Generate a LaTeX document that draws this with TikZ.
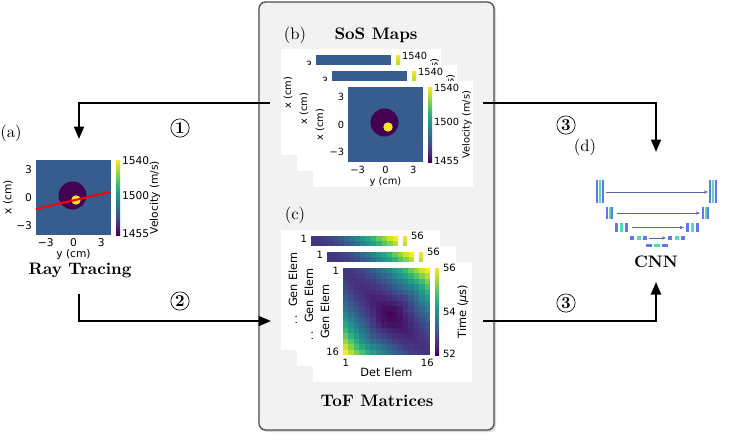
\documentclass[tikz,border=0pt]{standalone}
\usepackage{fontspec}
\usepackage{xcolor}
\usepackage{tikz}
\usetikzlibrary{arrows.meta}
\usetikzlibrary{shadows}
\newfontfamily\mplfont{DejaVu Sans}

\definecolor{vir0}{HTML}{440154}
\definecolor{vir1}{HTML}{472D7B}
\definecolor{vir2}{HTML}{3B528B}
\definecolor{vir3}{HTML}{2C728E}
\definecolor{vir4}{HTML}{21918C}
\definecolor{vir5}{HTML}{28AE80}
\definecolor{vir6}{HTML}{5EC962}
\definecolor{vir7}{HTML}{ADDC30}
\definecolor{vir8}{HTML}{FDE725}
\definecolor{sosbg}{HTML}{365D8D}
\definecolor{unetblue}{RGB}{100,118,232}
\definecolor{unetteal}{RGB}{78,222,190}
\definecolor{unetline}{RGB}{85,100,165}

\pgfdeclareverticalshading{viridis}{100bp}{color(0bp)=(vir0); color(25bp)=(vir0);
  color(31.25bp)=(vir1); color(37.5bp)=(vir2); color(43.75bp)=(vir3); color(50bp)=(vir4);
  color(56.25bp)=(vir5); color(62.5bp)=(vir6); color(68.75bp)=(vir7); color(75bp)=(vir8);
  color(100bp)=(vir8)}

% colour vc = viridis(#1)
\newcommand{\setvir}[1]{%
  \pgfmathsetmacro{\virt}{max(0,min(1,#1))*8}%
  \pgfmathtruncatemacro{\virk}{min(7,floor(\virt))}%
  \pgfmathtruncatemacro{\virf}{(\virt-\virk)*100}%
  \ifcase\virk\relax \colorlet{vc}{vir1!\virf!vir0}\or \colorlet{vc}{vir2!\virf!vir1}%
  \or \colorlet{vc}{vir3!\virf!vir2}\or \colorlet{vc}{vir4!\virf!vir3}%
  \or \colorlet{vc}{vir5!\virf!vir4}\or \colorlet{vc}{vir6!\virf!vir5}%
  \or \colorlet{vc}{vir7!\virf!vir6}\or \colorlet{vc}{vir8!\virf!vir7}\fi}

% sound speed map: shift x, shift y, name prefix, font size
\newcommand{\sosplot}[4]{%
  \begin{scope}[shift={(#1,#2)}, every node/.append style={font=\mplfont\fontsize{#4}{#4}\selectfont, inner sep=1pt}]
    \fill[white] (313,81) rectangle (473,187);
    \fill[sosbg] (348,87) rectangle (423,162);
    \fill[vir0] (384.5,122.5) circle[radius=14];
    \fill[vir8] (388,127) circle[radius=4.7];
    \shade[shading=viridis] (428,87) rectangle (432,162);
    \node[anchor=west] (#3cbt) at (432,88) {1540};
    \node[anchor=west] (#3cbm) at (432,122.3) {1500};
    \node[anchor=west] (#3cbb) at (432,161) {1455};
    \node[rotate=90] (#3cbl) at (467,124.5) {Velocity (m/s)};
    \foreach \t/\v [count=\k] in {96.7/3,124.5/0,152.3/−3} \node[anchor=east] (#3y\k) at (346,\t) {\v};
    \foreach \t/\v [count=\k] in {357.7/−3,385.5/0,413.3/3} \node[anchor=north] (#3x\k) at (\t,164) {\v};
    \node (#3xl) at (385.5,181.5) {y (cm)};
    \node[rotate=90] (#3yl) at (320,124.5) {x (cm)};
  \end{scope}}

% time of flight matrix: shift x, shift y, name prefix
\newcommand{\tofplot}[3]{%
  \begin{scope}[shift={(#1,#2)}, every node/.append style={font=\mplfont\fontsize{6}{6}\selectfont, inner sep=1pt}]
    \fill[white] (313,262) rectangle (472,382);
    \foreach \i in {1,...,16}{
      \foreach \j in {1,...,16}{
        \pgfmathsetmacro{\tofs}{min(abs((\i+\j-2)/30-0.55)/0.55,1)}
        \pgfmathsetmacro{\tofd}{max(abs(\i-\j)/15,0.001)}
        \setvir{0.15*(1-(1-\tofs)*(1-\tofs))+pow(\tofd,1.7)}
        \fill[vc] ({343+(\j-1)*5.4375},{268+(\i-1)*5.4375}) rectangle +(5.5,5.5);
      }
    }
    \shade[shading=viridis] (435,268) rectangle (439,355);
    \node[anchor=west] (#3cbt) at (441,268) {56};
    \node[anchor=west] (#3cbm) at (441,311.5) {54};
    \node[anchor=west] (#3cbb) at (441,354) {52};
    \node[anchor=east] (#3y1) at (341,270.7) {1};
    \node[anchor=east] (#3y2) at (341,352.3) {16};
    \node[anchor=north] (#3x1) at (345.7,357.5) {1};
    \node[anchor=north] (#3x2) at (427.3,357.5) {16};
    \node[font=\mplfont\fontsize{6.8}{6.8}\selectfont] (#3xl) at (386.5,372.5) {Det Elem};
    \node[rotate=90, font=\mplfont\fontsize{6.8}{6.8}\selectfont] (#3yl) at (325,311.5) {Gen Elem};
    \node[rotate=90, font=\mplfont\fontsize{6.8}{6.8}\selectfont] (#3cbl) at (463,311.5) {Time ({\itshape μ}s)};
  \end{scope}}

% three bars of the network sketch: x, y, bar width, gap, height
\newcommand{\ublock}[5]{%
  \fill[unetblue] (#1,#2) rectangle +(#3,#5);
  \fill[unetteal] ({#1+#3+#4},#2) rectangle +(#3,#5);
  \fill[unetblue] ({#1+2*#3+2*#4},#2) rectangle +(#3,#5);}

\begin{document}
\begin{tikzpicture}[x=0.6pt, y=-0.6pt,
    flow/.style={line width=1.2pt, -{Triangle[length=7.5pt,width=6pt]}},
    stepnum/.style={circle, draw, line width=0.4pt, inner sep=0.5pt, minimum size=11pt, font=\bfseries},
    title/.style={font=\bfseries},
    skip/.style={unetline, line width=0.5pt, -{Stealth[length=2.5pt,width=2pt]}}]
  \useasboundingbox (0,0) rectangle (736,440);

  % data panel
  \draw[draw=black!70, fill=gray!10, line width=0.8pt, rounded corners=4pt,
    drop shadow={shadow xshift=1.2pt, shadow yshift=-1.2pt, opacity=0.3}] (259,2) rectangle (494,430);
  \node (lblb) at (295,35) {(b)};
  \node[title] (sostitle) at (376,35) {SoS Maps};
  \node (lblc) at (295,215) {(c)};
  \node[title] (toftitle) at (377,401) {ToF Matrices};

  % arrows
  \coordinate (sosL) at (270,103);
  \coordinate (rayin) at (79,139);
  \coordinate (rayout) at (79,294);
  \coordinate (tofL) at (271,321);
  \coordinate (sosR) at (483,103);
  \coordinate (cnnin) at (656,152);
  \coordinate (tofR) at (483,321);
  \coordinate (cnnout) at (656,282);
  \draw[flow] (sosL) -| (rayin);
  \draw[flow] (rayout) |- (tofL);
  \draw[flow] (sosR) -| (cnnin);
  \draw[flow] (tofR) -| (cnnout);
  \node[stepnum] (num1) at (180,128) {1};
  \node[stepnum] (num2) at (180,301) {2};
  \node[stepnum] (num3a) at (566,125) {3};
  \node[stepnum] (num3b) at (566,303) {3};

  % stacks
  \sosplot{-32}{-32}{sa}{5.9}
  \sosplot{-16}{-16}{sb}{5.9}
  \sosplot{0}{0}{sc}{5.9}
  \tofplot{-32}{-32}{ta}
  \tofplot{-16}{-16}{tb}
  \tofplot{0}{0}{tc}

  % ray tracing
  \node (lbla) at (11,133) {(a)};
  \sosplot{-312}{73}{ra}{6.4}
  \draw[red, line width=1.2pt] (36,209) -- (110,192);
  \node[title] (raytxt) at (80,270) {Ray Tracing};

  % network
  \node (lbld) at (585,147) {(d)};
  \ublock{596}{180}{2}{1}{23}
  \ublock{709}{180}{2}{1}{23}
  \ublock{606}{207}{2}{0.7}{12}
  \ublock{702}{207}{2}{0.7}{12}
  \ublock{615}{223}{3.4}{1.6}{9}
  \ublock{686}{223}{3.4}{1.6}{9}
  \ublock{630}{236}{4}{2.5}{4}
  \ublock{668}{236}{4}{2.5}{4}
  \ublock{646}{244}{6}{2}{3}
  \draw[skip] (606,192) -- (708,192);
  \draw[skip] (617,213) -- (700,213);
  \draw[skip] (632,227.5) -- (684,227.5);
  \draw[skip] (649,238) -- (666,238);
  \node[title] (cnntxt) at (656,262) {CNN};
\end{tikzpicture}
\end{document}
